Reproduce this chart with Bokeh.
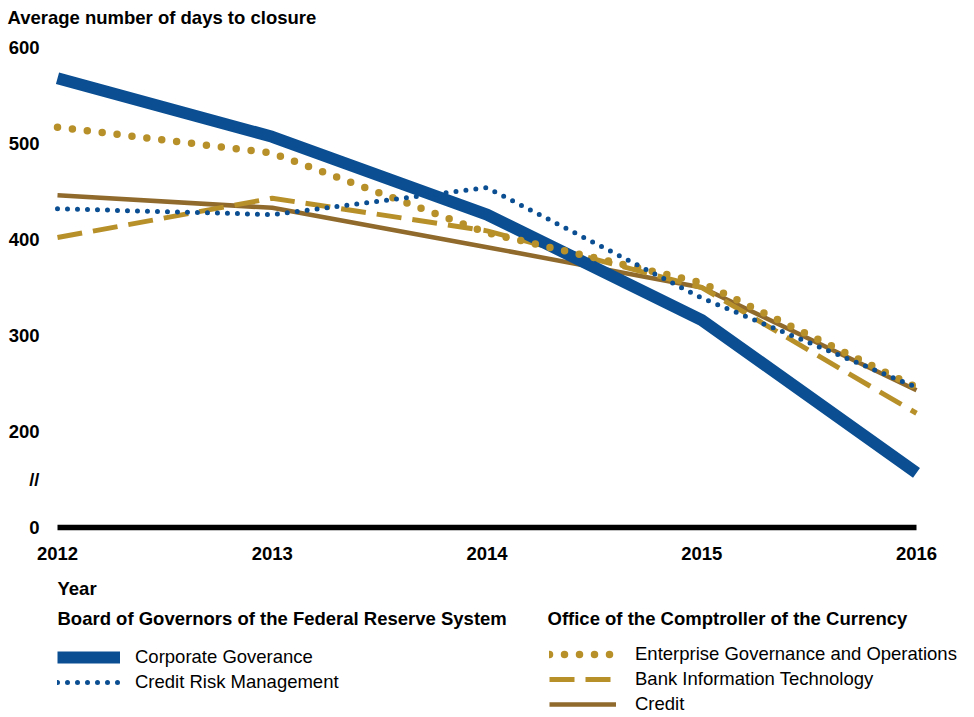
from bokeh.plotting import figure
from bokeh.layouts import column
from bokeh.models import FixedTicker, Label, Legend, LegendItem, Range1d
from bokeh.embed import file_html
from bokeh.resources import INLINE

# ---- data ----
years = [2012, 2013, 2014, 2015, 2016]
corporate_governance = [568, 507, 426, 316, 157]
credit_risk_management = [432, 426, 454, 339, 246]
enterprise_governance = [517, 490, 407, 355, 246]
bank_information_technology = [402, 443, 409, 350, 219]
credit = [446, 433, 392, 350, 243]

# broken y axis: the "0" label sits where 100 would be, break mark at 150
y_ticks = [100, 150, 200, 300, 400, 500, 600]
y_tick_labels = {100: "0", 150: "//"}
baseline_value = y_ticks[0]

BLUE = "#0B4F92"
GOLD = "#B8902A"
BROWN = "#8F6A2C"
FONT = "Liberation Sans"
FS = "18.5px"

STYLES = {
    "credit": dict(line_color=BROWN, line_width=4.5),
    "bit": dict(line_color=GOLD, line_width=5, line_dash="25 11"),
    "cg": dict(line_color=BLUE, line_width=12),
    "ego": dict(line_color=GOLD, line_width=7.5, line_dash="0 15", line_cap="round"),
    "crm": dict(line_color=BLUE, line_width=5, line_dash="0 10", line_cap="round"),
}
SERIES = {
    "credit": credit,
    "bit": bank_information_technology,
    "cg": corporate_governance,
    "ego": enterprise_governance,
    "crm": credit_risk_management,
}

W = 958
H_TOP = 572
H_BOT = 141
BORDER_L = 47
PX_PER_YEAR = 214.75
X0 = 2012 - 10 / PX_PER_YEAR
X1 = X0 + (W - BORDER_L) / PX_PER_YEAR

p = figure(width=W, height=H_TOP, output_backend="svg", toolbar_location=None,
           x_range=Range1d(X0, X1), y_range=Range1d(91.67, 617.71),
           min_border_left=BORDER_L, min_border_right=0, min_border_top=30,
           min_border_bottom=37)
p.outline_line_color = None
p.grid.visible = False
p.title.text = "Average number of days to closure"
p.title.align = "left"
p.title.offset = -40
p.title.standoff = 6
p.title.text_font = FONT
p.title.text_font_size = FS
p.title.text_font_style = "bold"
p.title.text_color = "black"

# axes
p.xaxis.ticker = FixedTicker(ticks=years)
p.yaxis.ticker = FixedTicker(ticks=y_ticks)
p.yaxis.major_label_overrides = y_tick_labels
for ax in (p.xaxis[0], p.yaxis[0]):
    ax.axis_line_color = None
    ax.major_tick_line_color = None
    ax.major_tick_out = 0
    ax.major_tick_in = 0
    ax.minor_tick_line_color = None
    ax.minor_tick_out = 0
    ax.major_label_text_font = FONT
    ax.major_label_text_font_size = FS
    ax.major_label_text_font_style = "bold"
    ax.major_label_text_color = "black"
p.xaxis.major_label_standoff = 11
p.yaxis.major_label_standoff = 8

# baseline ("0")
p.line(x=[years[0], years[-1]], y=[baseline_value, baseline_value],
       line_color="black", line_width=5.5)

# series
for name in ["credit", "bit", "cg", "ego", "crm"]:
    p.line(years, SERIES[name], **STYLES[name])

# ---- legend panel (its frame is aligned with the chart's frame) ----
q = figure(width=W, height=H_BOT, output_backend="svg", toolbar_location=None,
           x_range=Range1d(47, 47 + W - BORDER_L), y_range=Range1d(0, H_BOT),
           x_axis_type=None, y_axis_type=None,
           min_border_left=BORDER_L, min_border_right=0, min_border_top=0,
           min_border_bottom=0)
q.outline_line_color = None
q.grid.visible = False

# key renderers: same series, they fall outside this panel's ranges,
# so only their legend swatches are visible
k = {name: q.line(years, SERIES[name], **STYLES[name]) for name in STYLES}

txt = dict(text_font=FONT, text_font_size=FS, text_font_style="bold",
           text_baseline="middle", text_color="black")
q.add_layout(Label(x=57, y=125, text="Year", **txt))
q.add_layout(Label(x=57, y=95, text="Board of Governors of the Federal Reserve System", **txt))
q.add_layout(Label(x=547, y=95, text="Office of the Comptroller of the Currency", **txt))


def make_legend(items, loc, glyph_w, standoff):
    return Legend(items=items, location=loc, padding=0, margin=0,
                  border_line_color=None, background_fill_alpha=0,
                  glyph_width=glyph_w, glyph_height=20, label_height=20,
                  label_standoff=standoff, spacing=3,
                  label_text_font=FONT, label_text_font_size=FS,
                  label_text_color="black")


leg1 = make_legend([LegendItem(label="Corporate Goverance", renderers=[k["cg"]]),
                    LegendItem(label="Credit Risk Management", renderers=[k["crm"]])],
                   (10, 20), 63, 15)
leg2 = make_legend([LegendItem(label="Enterprise Governance and Operations", renderers=[k["ego"]]),
                    LegendItem(label="Bank Information Technology", renderers=[k["bit"]]),
                    LegendItem(label="Credit", renderers=[k["credit"]])],
                   (502, -2), 67, 19)
q.add_layout(leg1, "center")
q.add_layout(leg2, "center")

open("out.html", "w").write(file_html(column(p, q, spacing=0), INLINE))
